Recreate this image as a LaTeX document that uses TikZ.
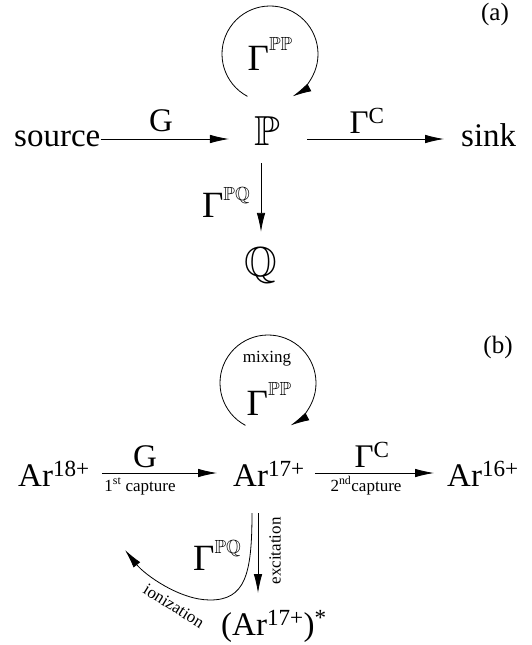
\documentclass[tikz,border=0pt]{standalone}
\usepackage{amssymb}
\usepackage{fontspec}
\setmainfont{Liberation Serif}
\usetikzlibrary{arrows.meta}
\DeclareFontFamily{U}{msb}{}
\DeclareFontShape{U}{msb}{m}{n}{<-6>msbm5<6-8>msbm7<8->msbm10}{}
\newcommand{\bbsup}[2]{\raisebox{#1}{\fontsize{19}{20}\selectfont$\mathbb{#2}$}}

\begin{document}
\begin{tikzpicture}[x=1pt, y=1pt,
    every node/.style={inner sep=0pt},
    maintxt/.style={font=\fontsize{33}{36}\selectfont},
    gamtxt/.style={font=\fontsize{37}{40}\selectfont},
    bbtxt/.style={font=\fontsize{42}{46}\selectfont},
    smalltxt/.style={font=\fontsize{17}{19}\selectfont},
    tagtxt/.style={font=\fontsize{25}{28}\selectfont},
    arr/.style={-{Latex[length=19pt,width=8.5pt]}, line width=0.8pt}
]
\useasboundingbox (0,0) rectangle (532,-645);

% (a)
\node[tagtxt] (tagA) at (495,-14) {(a)};
\node[maintxt, anchor=base west] (src) at (14,-146) {source};
\node[bbtxt, anchor=base] (P) at (267,-145) {$\mathbb{P}$};
\node[maintxt, anchor=base west] (sink) at (461,-146) {sink};
\node[bbtxt, anchor=base] (Q) at (261,-276) {$\mathbb{Q}$};
\node[maintxt, anchor=base] (lGa) at (161,-131) {G};
\node[maintxt, anchor=base] (lCa) at (367,-133) {Γ\textsuperscript{C}};
\node[gamtxt, anchor=base east] (gPQa) at (250,-217) {Γ\bbsup{17pt}{PQ}};
\node[gamtxt, anchor=base] (gPPa) at (270,-70) {Γ\bbsup{20pt}{PP}};
\coordinate (cA) at (270,-54);

\draw[arr, shorten >=25pt] ([yshift=7pt]src.base east) -- ([yshift=6pt]P.base west);
\draw[arr, shorten <=27pt, shorten >=17pt] ([yshift=6pt]P.base east) -- ([yshift=7pt]sink.base west);
\draw[arr] ([shift={(-6pt,-18pt)}]P.base) -- ([yshift=15pt]Q.north);
\draw[arr] ([shift={(242:48)}]cA) arc[start angle=242, end angle=-62, radius=48];

% (b)
\node[tagtxt] (tagB) at (498,-347) {(b)};
\node[smalltxt] (mix) at (267,-359) {mixing};
\node[gamtxt, anchor=base] (gPPb) at (269,-415) {Γ\bbsup{20pt}{PP}};
\coordinate (cB) at (268,-383);
\node[maintxt, anchor=base west] (a18) at (18,-486) {Ar\textsuperscript{18+}};
\node[maintxt, anchor=base west] (a17) at (233,-486) {Ar\textsuperscript{17+}};
\node[maintxt, anchor=base west] (a16) at (447,-486) {Ar\textsuperscript{16+}};
\node[maintxt, anchor=base west] (a17s) at (221,-635) {(Ar\textsuperscript{17+})\textsuperscript{*}};
\node[maintxt, anchor=base] (lGb) at (145,-467) {G};
\node[smalltxt, anchor=base] (cap1) at (140,-491) {1\textsuperscript{st} capture};
\node[maintxt, anchor=base] (lCb) at (372,-467) {Γ\textsuperscript{C}};
\node[smalltxt, anchor=base] (cap2) at (366,-491) {2\textsuperscript{nd}capture};
\node[smalltxt, rotate=90] (exc) at (275,-551) {excitation};
\node[smalltxt, rotate=-32] (ioniz) at (174,-606) {ionization};
\node[gamtxt, anchor=base west] (gPQb) at (193,-570) {Γ\bbsup{17pt}{PQ}};
\coordinate (ion) at (125,-550);

\draw[arr] ([shift={(242:48)}]cB) arc[start angle=242, end angle=-62, radius=48];
\draw[arr, shorten <=12pt, shorten >=16pt] ([yshift=13pt]a18.base east) -- ([yshift=13pt]a17.base west);
\draw[arr, shorten <=10pt, shorten >=13pt] ([yshift=13pt]a17.base east) -- ([yshift=13pt]a16.base west);
\draw[arr] ([shift={(25pt,-27pt)}]a17.base west) -- ([shift={(37pt,42pt)}]a17s.base west);
\draw[arr] ([shift={(19pt,-27pt)}]a17.base west) .. controls (252,-575) and (245,-600) .. (210,-600)
    .. controls (180,-600) and (145,-575) .. (ion);
\end{tikzpicture}
\end{document}
